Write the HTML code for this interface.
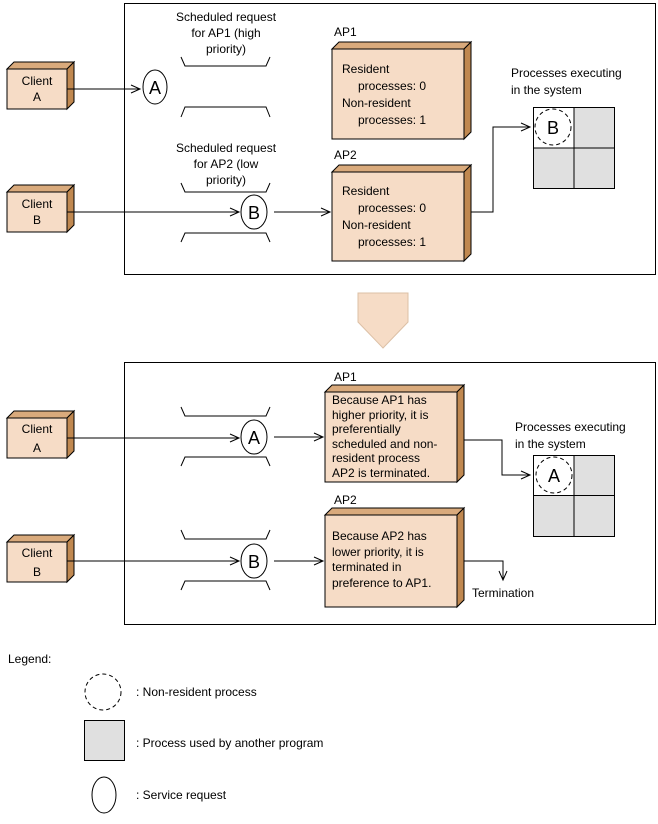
<!DOCTYPE html>
<html><head><meta charset="utf-8"><style>
html,body{margin:0;padding:0;background:#fff}
svg{display:block}
text{font-family:"Liberation Sans",sans-serif;font-size:12px;fill:#000}
</style></head><body>
<svg width="658" height="824" viewBox="0 0 658 824" xmlns="http://www.w3.org/2000/svg">
<defs>
<g id="arr"><path d="M-9,-4 L0,0 L-9,4" fill="none" stroke="#000"/></g>
</defs>
<g stroke="#000" fill="none">
<rect x="124.5" y="3.5" width="531" height="271"/>
<rect x="124.5" y="362.5" width="531" height="262"/>
</g>

<g stroke="#000" stroke-width="1">
<polygon points="7,69 14,62 74,62 67,69" fill="#d9aa7c"/><polygon points="67,69 74,62 74,102 67,109" fill="#c08850"/><rect x="7" y="69" width="60" height="40" fill="#f6dcc6"/>
<polygon points="7,192 14,185 74,185 67,192" fill="#d9aa7c"/><polygon points="67,192 74,185 74,225 67,232" fill="#c08850"/><rect x="7" y="192" width="60" height="40" fill="#f6dcc6"/>
<polygon points="7,418 14,411 74,411 67,418" fill="#d9aa7c"/><polygon points="67,418 74,411 74,451 67,458" fill="#c08850"/><rect x="7" y="418" width="60" height="40" fill="#f6dcc6"/>
<polygon points="7,542 14,535 74,535 67,542" fill="#d9aa7c"/><polygon points="67,542 74,535 74,575 67,582" fill="#c08850"/><rect x="7" y="542" width="60" height="40" fill="#f6dcc6"/>
<polygon points="332,49 339,42 471,42 464,49" fill="#d9aa7c"/><polygon points="464,49 471,42 471,132 464,139" fill="#c08850"/><rect x="332" y="49" width="132" height="90" fill="#f6dcc6"/>
<polygon points="332,172 339,165 471,165 464,172" fill="#d9aa7c"/><polygon points="464,172 471,165 471,254 464,261" fill="#c08850"/><rect x="332" y="172" width="132" height="89" fill="#f6dcc6"/>
<polygon points="325,392 332,385 464,385 457,392" fill="#d9aa7c"/><polygon points="457,392 464,385 464,475 457,482" fill="#c08850"/><rect x="325" y="392" width="132" height="90" fill="#f6dcc6"/>
<polygon points="325,515 332,508 464,508 457,515" fill="#d9aa7c"/><polygon points="457,515 464,508 464,600 457,607" fill="#c08850"/><rect x="325" y="515" width="132" height="92" fill="#f6dcc6"/>
</g>
<g text-anchor="middle">
<text x="37" y="85">Client</text><text x="37" y="101">A</text>
<text x="37" y="208">Client</text><text x="37" y="224">B</text>
<text x="37" y="433">Client</text><text x="37" y="452">A</text>
<text x="37" y="557">Client</text><text x="37" y="576">B</text>
</g>

<g stroke="#000" fill="none">
<path d="M181,57 L185,66 L266,66 L270,57"/><path d="M181,117 L185,107 L266,107 L270,117"/>
<path d="M181,183 L185,192 L266,192 L270,183"/><path d="M181,242 L185,233 L266,233 L270,242"/>
<path d="M181,407 L185,416 L266,416 L270,407"/><path d="M181,466 L185,457 L266,457 L270,466"/>
<path d="M181,530 L185,539 L266,539 L270,530"/><path d="M181,590 L185,581 L266,581 L270,590"/>
<ellipse cx="155" cy="87" rx="12" ry="17"/>
<ellipse cx="254" cy="212" rx="13" ry="17"/>
<ellipse cx="254" cy="437" rx="13" ry="17"/>
<ellipse cx="254" cy="561" rx="13" ry="17"/>
<path d="M67,89 H140"/><use href="#arr" x="140" y="89"/>
<path d="M67,212 H239"/><use href="#arr" x="239" y="212"/>
<path d="M274,212 H330"/><use href="#arr" x="330" y="212"/>
<path d="M471,212 H493 V127 H530"/><use href="#arr" x="530" y="127"/>
<path d="M67,438 H239"/><use href="#arr" x="239" y="438"/>
<path d="M274,437 H323"/><use href="#arr" x="323" y="437"/>
<path d="M67,561 H239"/><use href="#arr" x="239" y="561"/>
<path d="M274,561 H323"/><use href="#arr" x="323" y="561"/>
<path d="M464,440 H502 V475 H530"/><use href="#arr" x="530" y="475"/>
<path d="M464,561 H503 V580"/><path d="M499,571 L503,580 L507,571"/>
</g>
<text x="155" y="94" text-anchor="middle" style="font-size:18px">A</text>
<text x="254" y="219" text-anchor="middle" style="font-size:18px">B</text>
<text x="254" y="444" text-anchor="middle" style="font-size:18px">A</text>
<text x="254" y="568" text-anchor="middle" style="font-size:18px">B</text>

<g stroke="#000">
<rect x="533.5" y="107.5" width="81" height="81" fill="#e0e0e0"/><rect x="533.5" y="107.5" width="40.5" height="40.5" fill="#fff"/>
<path d="M574,107 V188 M533,148 H614"/>
<rect x="533.5" y="455.5" width="81" height="81" fill="#e0e0e0"/><rect x="533.5" y="455.5" width="40.5" height="40" fill="#fff"/>
<path d="M574,455 V536 M533,495.5 H614"/>
<circle cx="553" cy="127" r="18" fill="none" stroke-dasharray="4,3"/>
<circle cx="554" cy="475" r="18" fill="none" stroke-dasharray="4,3"/>
</g>
<text x="553" y="134" text-anchor="middle" style="font-size:18px">B</text>
<text x="554" y="482" text-anchor="middle" style="font-size:18px">A</text>

<g text-anchor="middle">
<text x="226" y="21">Scheduled request</text><text x="226" y="37">for AP1 (high</text><text x="226" y="53">priority)</text>
<text x="226" y="152">Scheduled request</text><text x="226" y="168">for AP2 (low</text><text x="226" y="184">priority)</text>
</g>
<text x="334" y="36">AP1</text><text x="334" y="159">AP2</text>
<text x="342" y="73">Resident</text><text x="358" y="90">processes: 0</text><text x="342" y="107">Non-resident</text><text x="358" y="124">processes: 1</text>
<text x="342" y="195">Resident</text><text x="358" y="212">processes: 0</text><text x="342" y="229">Non-resident</text><text x="358" y="246">processes: 1</text>
<text x="511" y="77">Processes executing</text><text x="511" y="94">in the system</text>
<text x="334" y="381">AP1</text><text x="334" y="504">AP2</text>
<text x="332" y="404">Because AP1 has</text><text x="332" y="419">higher priority, it is</text><text x="332" y="433">preferentially</text><text x="332" y="448">scheduled and non-</text><text x="332" y="462">resident process</text><text x="332" y="477">AP2 is terminated.</text>
<text x="332" y="540">Because AP2 has</text><text x="332" y="556">lower priority, it is</text><text x="332" y="571">terminated in</text><text x="332" y="587">preference to AP1.</text>
<text x="515" y="431">Processes executing</text><text x="515" y="448">in the system</text>
<text x="472" y="597">Termination</text>

<polygon points="358,293 408,293 408,322 383,348 358,322" fill="#f6dcc6" stroke="#dcc0a6"/>

<text x="8" y="663">Legend:</text>
<circle cx="103" cy="692" r="18" fill="none" stroke="#000" stroke-dasharray="4,3"/>
<text x="136" y="696">: Non-resident process</text>
<rect x="84.5" y="720.5" width="40" height="40" fill="#e0e0e0" stroke="#000"/>
<text x="136" y="747">: Process used by another program</text>
<ellipse cx="104" cy="795" rx="12" ry="18" fill="none" stroke="#000"/>
<text x="136" y="799">: Service request</text>
</svg>
</body></html>
